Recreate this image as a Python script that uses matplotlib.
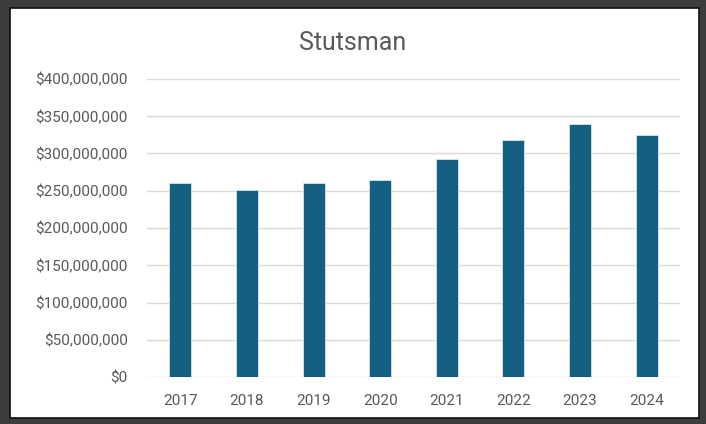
import matplotlib.pyplot as plt
from matplotlib.patches import Rectangle
from matplotlib.ticker import FuncFormatter

plt.rcParams['font.family'] = ['Roboto', 'DejaVu Sans']

years = ['2017', '2018', '2019', '2020', '2021', '2022', '2023', '2024']
values = [259.8e6, 250.4e6, 259.8e6, 263.8e6, 292.9e6, 317.9e6, 339.0e6, 325.5e6]
yticks = [0, 50e6, 100e6, 150e6, 200e6, 250e6, 300e6, 350e6, 400e6]

fig = plt.figure(figsize=(7.06, 4.24), dpi=100, facecolor='#3c3c3c')

# white chart area with a thin dark frame
fig.patches.append(Rectangle((10 / 706, 1 - 418 / 424), 689 / 706, 410 / 424,
                             transform=fig.transFigure, facecolor='white',
                             edgecolor='#111111', linewidth=1.2, zorder=-1))

ax = fig.add_axes([147 / 706, 1 - 377 / 424, 533 / 706, 298 / 424])
ax.set_facecolor('none')

x = range(len(years))
ax.bar(x, values, width=0.33, color='#156082', edgecolor='#d6e4ea', linewidth=0.6, zorder=3)

ax.set_xlim(-0.5, len(years) - 0.5)
ax.set_ylim(0, 400e6)
ax.set_yticks(yticks)
ax.yaxis.set_major_formatter(FuncFormatter(lambda v, p: '${:,.0f}'.format(v)))
ax.set_xticks(list(x))
ax.set_xticklabels(years)
ax.grid(axis='y', color='#d9d9d9', linewidth=1, zorder=0)
for s in ax.spines.values():
    s.set_visible(False)
ax.tick_params(length=0, labelsize=11, colors='#595959')
ax.tick_params(axis='y', pad=14)
ax.tick_params(axis='x', pad=12)

fig.text(0.5, 1 - 43 / 424, 'Stutsman', ha='center', va='center', fontsize=18,
         color='#595959')

fig.savefig('out.png', dpi=100, facecolor=fig.get_facecolor())
